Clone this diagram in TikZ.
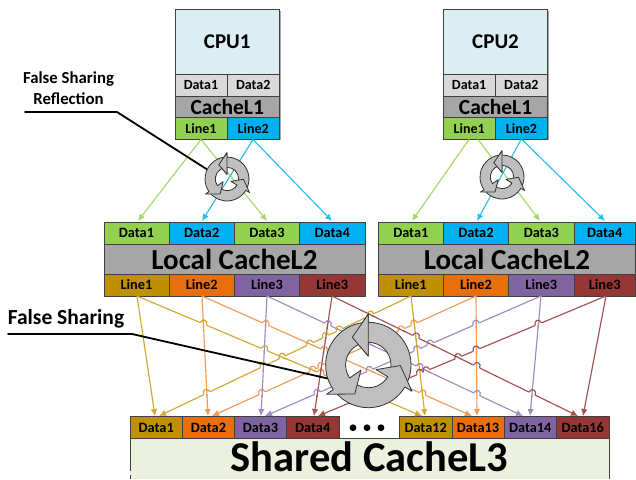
\documentclass[tikz,border=0pt]{standalone}
\usepackage{fontspec}
\setmainfont{Carlito}
\usetikzlibrary{arrows.meta}
\definecolor{cpuc}{HTML}{DAEEF3}
\definecolor{datac}{HTML}{D9D9D9}
\definecolor{cachec}{HTML}{A6A6A6}
\definecolor{greenc}{HTML}{92D050}
\definecolor{bluec}{HTML}{00B0F0}
\definecolor{goldc}{HTML}{BF9000}
\definecolor{orangec}{HTML}{E96F0C}
\definecolor{purplec}{HTML}{8064A2}
\definecolor{redc}{HTML}{953735}
\definecolor{sharedc}{HTML}{EBF1DE}
\definecolor{lgreen}{HTML}{A3D96B}
\definecolor{lblue}{HTML}{30BBF0}
\definecolor{lgold}{HTML}{D0A832}
\definecolor{lorange}{HTML}{F39A55}
\definecolor{lpurple}{HTML}{A08CBE}
\definecolor{lred}{HTML}{A5524F}
\tikzset{
  cellbox/.style={draw=black!75,line width=0.9pt,inner sep=0pt,outer sep=0pt,font=\bfseries,align=center},
  conn/.style={line width=1.15pt,-{Latex[length=7pt,width=6.5pt]}},
  leader/.style={draw=black,line width=1.8pt,line cap=round},
  rotbody/.style={draw=black!80,line width=0.8pt,fill=black!25,line join=round},
  label/.style={inner sep=0pt,align=center},
  shadowbox/.style={fill=black!35}
}
\newcommand{\cell}[8]{% name x1 y1 x2 y2 fill size text
  \pgfmathsetlengthmacro{\cw}{(#4-#2)*1pt}%
  \pgfmathsetlengthmacro{\ch}{(#5-#3)*1pt}%
  \pgfmathsetmacro{\ccx}{(#2+#4)/2}%
  \pgfmathsetmacro{\ccy}{(#3+#5)/2}%
  \node[cellbox,fill=#6,minimum width=\cw,minimum height=\ch] (#1) at (\ccx,\ccy) {\fontsize{#7}{#7}\selectfont #8};%
}
\newcommand{\rotarm}[3]{% scale, tail angle, base angle
  \path[rotbody] (#2:42.7) arc[start angle=#2,end angle=#3,radius={#1*42.7pt}]
    -- (#3:51) -- ({#3+30}:32) -- (#3:9) -- (#3:22.7)
    arc[start angle=#3,end angle=#2,radius={#1*22.7pt}] -- cycle;%
}
\newcommand{\rotarrows}[3]{% cx cy scale
  \begin{scope}[shift={(#1,#2)},x=#3pt,y=#3pt]
    \rotarm{#3}{-28}{90}
    \rotarm{#3}{218}{329}
    \rotarm{#3}{93}{215}
    \path[rotbody] (90:51) -- (120:32) -- (90:9) -- cycle;
  \end{scope}%
}
\begin{document}
\begin{tikzpicture}[x=1pt,y=-1pt]
\useasboundingbox (0,0) rectangle (636,479);
\fill[white] (0,0) rectangle (636,479);
% shadows
\fill[shadowbox] (176.5,10.5) rectangle (280.8,140.4);
\fill[shadowbox] (444.5,10.5) rectangle (549,140.4);
\fill[shadowbox] (105.5,223) rectangle (366.3,297.4);
\fill[shadowbox] (379.5,223) rectangle (636,297.4);
% shared box continues below its label
\fill[sharedc] (130,470) rectangle (609,479);
\draw[black!75,line width=0.9pt] (130,470) -- (130,479) (609,470) -- (609,479);
% CPU1 stack
\cell{cpua}{175}{9}{279.5}{74}{cpuc}{21}{CPU1}
\cell{cpuadone}{175}{74}{227}{96}{datac}{14}{Data1}
\cell{cpuadtwo}{227}{74}{279.5}{96}{datac}{14}{Data2}
\cell{cachea}{175}{96}{279.5}{117.5}{cachec}{21.5}{CacheL1}
\cell{cpualone}{175}{117.5}{227}{139}{greenc}{14}{Line1}
\cell{cpualtwo}{227}{117.5}{279.5}{139}{bluec}{14}{Line2}
% CPU2 stack
\cell{cpub}{443.3}{9}{547.8}{74}{cpuc}{21}{CPU2}
\cell{cpubdone}{443.3}{74}{495}{96}{datac}{14}{Data1}
\cell{cpubdtwo}{495}{74}{547.8}{96}{datac}{14}{Data2}
\cell{cacheb}{443.3}{96}{547.8}{117.5}{cachec}{21.5}{CacheL1}
\cell{cpublone}{443.3}{117.5}{495}{139}{greenc}{14}{Line1}
\cell{cpubltwo}{495}{117.5}{547.8}{139}{bluec}{14}{Line2}
% Left L2
\cell{lad1}{104}{222}{169}{244}{greenc}{14.3}{Data1}
\cell{lad2}{169}{222}{234.5}{244}{bluec}{14.3}{Data2}
\cell{lad3}{234.5}{222}{299.5}{244}{greenc}{14.3}{Data3}
\cell{lad4}{299.5}{222}{365}{244}{bluec}{14.3}{Data4}
\cell{lac}{104}{244}{365}{274}{cachec}{29}{Local CacheL2}
\cell{lal1}{104}{274}{169}{296}{goldc}{14.3}{Line1}
\cell{lal2}{169}{274}{234.5}{296}{orangec}{14.3}{Line2}
\cell{lal3}{234.5}{274}{299.5}{296}{purplec}{14.3}{Line3}
\cell{lal4}{299.5}{274}{365}{296}{redc}{14.3}{Line3}
% Right L2
\cell{rad1}{378.3}{222}{443.3}{244}{greenc}{14.3}{Data1}
\cell{rad2}{443.3}{222}{508.6}{244}{bluec}{14.3}{Data2}
\cell{rad3}{508.6}{222}{574}{244}{greenc}{14.3}{Data3}
\cell{rad4}{574}{222}{635.5}{244}{bluec}{14.3}{Data4}
\cell{rac}{378.3}{244}{635.5}{274}{cachec}{29}{Local CacheL2}
\cell{ral1}{378.3}{274}{443.3}{296}{goldc}{14.3}{Line1}
\cell{ral2}{443.3}{274}{508.6}{296}{orangec}{14.3}{Line2}
\cell{ral3}{508.6}{274}{574}{296}{purplec}{14.3}{Line3}
\cell{ral4}{574}{274}{635.5}{296}{redc}{14.3}{Line3}
% L3
\node[inner sep=0pt,outer sep=0pt,fill=sharedc,minimum width=479pt,minimum height=36pt,font=\bfseries\fontsize{42.5}{42.5}\selectfont] (shared) at (369.5,456.7) {Shared CacheL3};
\draw[black!75,line width=0.9pt] (130,438.7) -- (130,471) (609,438.7) -- (609,471);
\cell{sd1}{130}{416.7}{182.5}{438.7}{goldc}{14.3}{Data1}
\cell{sd2}{182.5}{416.7}{234.5}{438.7}{orangec}{14.3}{Data2}
\cell{sd3}{234.5}{416.7}{286.5}{438.7}{purplec}{14.3}{Data3}
\cell{sd4}{286.5}{416.7}{339}{438.7}{redc}{14.3}{Data4}
\cell{sd12}{399.3}{416.7}{452}{438.7}{goldc}{14.3}{Data12}
\cell{sd13}{452}{416.7}{504}{438.7}{orangec}{14.3}{Data13}
\cell{sd14}{504}{416.7}{556.5}{438.7}{purplec}{14.3}{Data14}
\cell{sd16}{556.5}{416.7}{609}{438.7}{redc}{14.3}{Data16}
\draw[black!75,line width=0.9pt] (339,438.7) -- (399.3,438.7);
\fill (353,427.7) circle (3.4) (367,427.7) circle (3.4) (381,427.7) circle (3.4);
% upper connectors
\coordinate (sa1) at (201,139.5); \coordinate (sa2) at (253,139.5);
\coordinate (sb1) at (469,139.5); \coordinate (sb2) at (478,139.5);
\coordinate (sb3) at (521,139.5); \coordinate (sb4) at (522,139.5);
\coordinate (ta1) at (138,221); \coordinate (ta2) at (202,221);
\coordinate (ta3) at (267,221); \coordinate (ta4) at (332,221);
\coordinate (tb1) at (412,221); \coordinate (tb2) at (477,221);
\coordinate (tb3) at (540,221); \coordinate (tb4) at (605,221);
\draw[conn,lgreen] (sa1) -- (ta1);
\draw[conn,lgreen] (sa1) -- (ta3);
\draw[conn,lblue] (sa2) -- (ta2);
\draw[conn,lblue] (sa2) -- (ta4);
\draw[conn,lgreen] (sb1) -- (tb1);
\draw[conn,lgreen] (sb2) -- (tb3);
\draw[conn,lblue] (sb3) -- (tb2);
\draw[conn,lblue] (sb4) -- (tb4);
% lower connectors: start x / end x / class / colour / source
\def\conns{137/155/0/lgold/lal1,202/208/0/lorange/lal2,267/261/0/lpurple/lal3,332/314/0/lred/lal4,
411/425/0/lgold/ral1,476/477/0/lorange/ral2,541/530/0/lpurple/ral3,606/583/0/lred/ral4,
137/422/1/lgold/lal1,202/472/1/lorange/lal2,267/523/1/lpurple/lal3,332/578/1/lred/lal4,
411/159/2/lgold/ral1,476/212/2/lorange/ral2,541/265/2/lpurple/ral3,606/318/2/lred/ral4}
\foreach \ai/\bi/\ci/\coli/\srci in \conns {
  \coordinate (tgt) at (\bi,416);
  \coordinate (org) at (\ai,296);
  \draw[conn,\coli] (org) -- (tgt);
}
\foreach \ai/\bi/\ci/\coli/\srci in \conns {
 \foreach \aj/\bj/\cj/\colj/\srcj in \conns {
  \ifnum\ci>\cj\relax
   \pgfmathsetmacro\hs{(\aj-\ai)/((\bi-\ai)-(\bj-\aj))}
   \ifdim\hs pt>0.03pt\relax\ifdim\hs pt<0.95pt\relax
     \pgfmathsetmacro\di{\bi-\ai}
     \pgfmathsetmacro\dj{\bj-\aj}
     \pgfmathsetmacro\hx{\ai+\di*\hs}
     \pgfmathsetmacro\hy{296+120*\hs}
     \pgfmathsetmacro\Li{100*sqrt((\di/100)*(\di/100)+1.44)}
     \pgfmathsetmacro\Lj{100*sqrt((\dj/100)*(\dj/100)+1.44)}
     \pgfmathsetmacro\ux{3.4*\di/\Li}
     \pgfmathsetmacro\uy{3.4*120/\Li}
     \pgfmathsetmacro\vx{4.5*\dj/\Lj}
     \pgfmathsetmacro\vy{4.5*120/\Lj}
     \pgfmathsetmacro\sg{\di>0?1:-1}
     \pgfmathsetmacro\nx{\sg*\uy*1.6}
     \pgfmathsetmacro\ny{-\sg*\ux*1.6}
     \draw[white,line width=1.9pt] (\hx-\ux,\hy-\uy) -- (\hx+\ux,\hy+\uy);
     \draw[\colj,line width=1.15pt] (\hx-\vx,\hy-\vy) -- (\hx+\vx,\hy+\vy);
     \draw[\coli,line width=1.15pt] (\hx-\ux,\hy-\uy)
       .. controls (\hx-\ux+\nx,\hy-\uy+\ny) and (\hx+\ux+\nx,\hy+\uy+\ny) .. (\hx+\ux,\hy+\uy);
   \fi\fi
  \fi
 }
}
% leaders
\coordinate (fra) at (25,112); \coordinate (frb) at (117,112); \coordinate (frc) at (208,170);
\coordinate (fsa) at (8,334); \coordinate (fsb) at (132,334); \coordinate (fsc) at (330,379);
\draw[leader] (fra) -- (frb) -- (frc);
\draw[leader] (fsa) -- (fsb) -- (fsc);
% rotation symbols
\rotarrows{227}{179}{0.515}
\rotarrows{502}{177}{0.515}
\rotarrows{368.3}{365}{1}
% labels
\node[label,font=\bfseries\fontsize{16.8}{21}\selectfont] (frl) at (68.5,88.5) {False Sharing\\Reflection};
\node[label,font=\bfseries\fontsize{21.5}{21.5}\selectfont] (fsl) at (66,319) {False Sharing};
\end{tikzpicture}
\end{document}
